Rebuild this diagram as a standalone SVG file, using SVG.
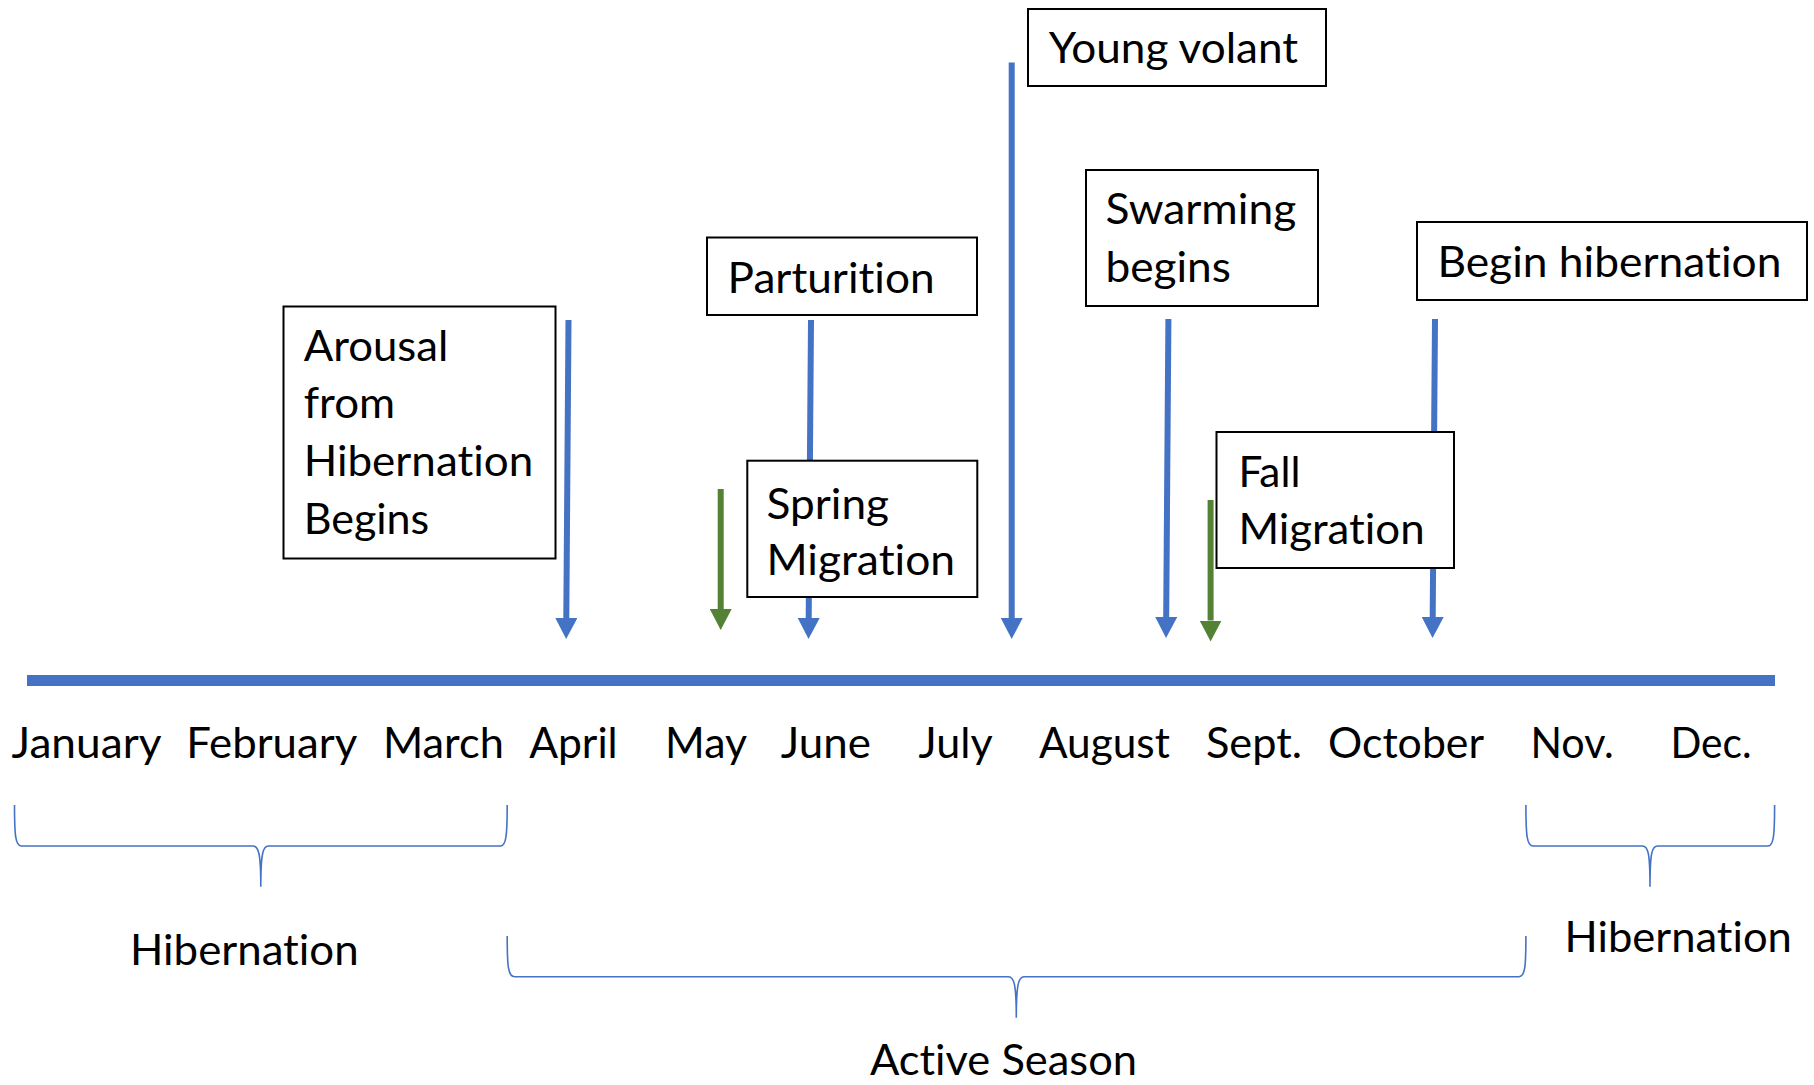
<svg xmlns="http://www.w3.org/2000/svg" width="1814" height="1085" viewBox="0 0 1814 1085">
<style>
.bg{fill:#ffffff}
.box{fill:#ffffff;stroke:#000000;stroke-width:2}
.t{font-family:Lato,"Liberation Sans",sans-serif;font-size:42px;fill:#000000;font-variant-ligatures:none;font-feature-settings:"liga" 0}
.blue{stroke:#4472C4;stroke-width:6;fill:none}
.green{stroke:#548235;stroke-width:6;fill:none}
.brace{stroke:#4472C4;stroke-width:1.6;fill:none}
</style>
<defs>
<marker id="hb" markerUnits="userSpaceOnUse" markerWidth="21" markerHeight="22" refX="0" refY="11" orient="auto" viewBox="0 0 21 22">
<path d="M0,0 L21,11 L0,22 z" fill="#4472C4"/>
</marker>
<marker id="hg" markerUnits="userSpaceOnUse" markerWidth="21" markerHeight="22" refX="0" refY="11" orient="auto" viewBox="0 0 21 22">
<path d="M0,0 L21,11 L0,22 z" fill="#548235"/>
</marker>
</defs>
<rect class="bg" x="0" y="0" width="1814" height="1085"/>

<g id="timeline">
<rect x="27" y="675" width="1748" height="11" fill="#4472C4"/>
</g>

<g id="connectors">
<line class="blue" x1="568.5" y1="320" x2="566.3" y2="618" marker-end="url(#hb)"/>
<line class="blue" x1="811" y1="320" x2="808.7" y2="618" marker-end="url(#hb)"/>
<line class="green" x1="720.7" y1="489" x2="720.7" y2="609" marker-end="url(#hg)"/>
<line class="blue" x1="1011.7" y1="62.5" x2="1011.7" y2="618" marker-end="url(#hb)"/>
<line class="blue" x1="1168.4" y1="319" x2="1166.2" y2="617" marker-end="url(#hb)"/>
<line class="green" x1="1210.6" y1="500" x2="1210.6" y2="620.5" marker-end="url(#hg)"/>
<line class="blue" x1="1435" y1="319" x2="1432.7" y2="617" marker-end="url(#hb)"/>
</g>

<g id="node-arousal">
<rect class="box" x="283.5" y="306.5" width="272" height="252"/>
<text class="t" x="303.7" y="361" textLength="144.6" lengthAdjust="spacingAndGlyphs">Arousal</text>
<text class="t" x="303.7" y="418" textLength="91.4" lengthAdjust="spacingAndGlyphs">from</text>
<text class="t" x="303.7" y="476" textLength="229.6" lengthAdjust="spacingAndGlyphs">Hibernation</text>
<text class="t" x="303.7" y="533.5" textLength="125.5" lengthAdjust="spacingAndGlyphs">Begins</text>
</g>

<g id="node-parturition">
<rect class="box" x="707" y="237.5" width="270" height="77.5"/>
<text class="t" x="727.6" y="292.5" textLength="207" lengthAdjust="spacingAndGlyphs">Parturition</text>
</g>

<g id="node-spring-migration">
<rect class="box" x="747.3" y="460.7" width="230" height="136.3"/>
<text class="t" x="766.5" y="519" textLength="122.6" lengthAdjust="spacingAndGlyphs">Spring</text>
<text class="t" x="766.5" y="575" textLength="188.6" lengthAdjust="spacingAndGlyphs">Migration</text>
</g>

<g id="node-young-volant">
<rect class="box" x="1028" y="9" width="298" height="77"/>
<text class="t" x="1048.7" y="63" textLength="249.3" lengthAdjust="spacingAndGlyphs">Young volant</text>
</g>

<g id="node-swarming">
<rect class="box" x="1086" y="170" width="232" height="136"/>
<text class="t" x="1105.4" y="224" textLength="190.8" lengthAdjust="spacingAndGlyphs">Swarming</text>
<text class="t" x="1105.4" y="282" textLength="125.5" lengthAdjust="spacingAndGlyphs">begins</text>
</g>

<g id="node-begin-hibernation">
<rect class="box" x="1417" y="222" width="390" height="78"/>
<text class="t" x="1437.4" y="277" textLength="344" lengthAdjust="spacingAndGlyphs">Begin hibernation</text>
</g>

<g id="node-fall-migration">
<rect class="box" x="1216.5" y="432" width="237.5" height="136"/>
<text class="t" x="1238.4" y="486.5" textLength="62" lengthAdjust="spacingAndGlyphs">Fall</text>
<text class="t" x="1238.4" y="543.5" textLength="186.2" lengthAdjust="spacingAndGlyphs">Migration</text>
</g>

<g id="months">
<text class="t" x="11.6" y="758" textLength="150" lengthAdjust="spacingAndGlyphs">January</text>
<text class="t" x="186.2" y="758" textLength="171" lengthAdjust="spacingAndGlyphs">February</text>
<text class="t" x="382.9" y="758" textLength="121" lengthAdjust="spacingAndGlyphs">March</text>
<text class="t" x="529.2" y="758" textLength="88.5" lengthAdjust="spacingAndGlyphs">April</text>
<text class="t" x="665.1" y="758" textLength="82" lengthAdjust="spacingAndGlyphs">May</text>
<text class="t" x="780.8" y="758" textLength="90" lengthAdjust="spacingAndGlyphs">June</text>
<text class="t" x="918.6" y="758" textLength="74" lengthAdjust="spacingAndGlyphs">July</text>
<text class="t" x="1038.9" y="758" textLength="131" lengthAdjust="spacingAndGlyphs">August</text>
<text class="t" x="1206" y="758" textLength="96" lengthAdjust="spacingAndGlyphs">Sept.</text>
<text class="t" x="1328" y="758" textLength="156" lengthAdjust="spacingAndGlyphs">October</text>
<text class="t" x="1530.5" y="758" textLength="83.3" lengthAdjust="spacingAndGlyphs">Nov.</text>
<text class="t" x="1670.5" y="758" textLength="81" lengthAdjust="spacingAndGlyphs">Dec.</text>
</g>

<g id="brace-hibernation-left">
<path class="brace" d="M14.5,805 C14.5,836 15.5,846 21.5,846 L253,846 C258.5,846 260.8,853 260.8,886.7 C260.8,853 263,846 268.5,846 L500.5,846 C506,846 507.2,836 507.2,805"/>
<text class="t" x="130" y="965" textLength="228.6" lengthAdjust="spacingAndGlyphs">Hibernation</text>
</g>

<g id="brace-active">
<path class="brace" d="M507.2,936 C507.2,967 508.2,976.7 514.5,976.7 L1008.5,976.7 C1014,976.7 1016.3,984 1016.3,1017.7 C1016.3,984 1018.6,976.7 1024,976.7 L1519,976.7 C1525,976.7 1525.9,967 1525.9,936"/>
<text class="t" x="870" y="1075" textLength="267" lengthAdjust="spacingAndGlyphs">Active Season</text>
</g>

<g id="brace-hibernation-right">
<path class="brace" d="M1525.9,805 C1525.9,836 1527,846 1533,846 L1642.5,846 C1648,846 1650,853 1650,886.7 C1650,853 1652,846 1657.5,846 L1768,846 C1773.5,846 1774.6,836 1774.6,805"/>
<text class="t" x="1564.6" y="951.5" textLength="227.3" lengthAdjust="spacingAndGlyphs">Hibernation</text>
</g>
</svg>
